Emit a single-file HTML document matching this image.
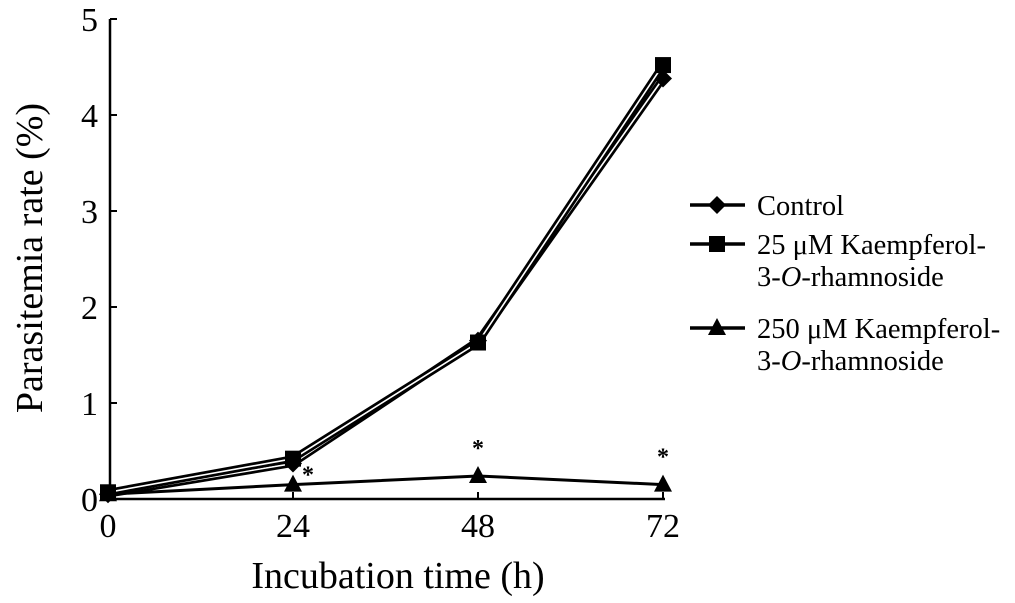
<!DOCTYPE html>
<html><head><meta charset="utf-8"><style>
body{margin:0;background:#fff}
text{font-family:"Liberation Serif",serif;fill:#000}
</style></head><body>
<svg id="c" width="1015" height="598"></svg>
<script>
const times=[0,24,48,72];
const yTicks=[0,1,2,3,4,5];
const control=[0.05,0.37,1.65,4.38];
const low=[0.07,0.42,1.63,4.52];
const high=[0.05,0.15,0.24,0.15];
const sig=[false,true,true,true];
const NS="http://www.w3.org/2000/svg";
const svg=document.getElementById('c');
const X=t=>108+t*(555/72);
const Y=v=>499-v*96;
function el(tag,attrs,name,parent){const e=document.createElementNS(NS,tag);for(const k in attrs)e.setAttribute(k,attrs[k]);


(parent||svg).appendChild(e);return e;}
el('line',{x1:110,y1:Y(5),x2:110,y2:499,stroke:'#000','stroke-width':2.5},'y-axis');
el('line',{x1:110,y1:499,x2:X(72)+2,y2:499,stroke:'#000','stroke-width':2.5},'x-axis');
yTicks.forEach(v=>{el('line',{x1:110,y1:Y(v),x2:117,y2:Y(v),stroke:'#000','stroke-width':2},'y-tick');
const t=el('text',{x:98,y:Y(v)+12,'font-size':34,'text-anchor':'end'},'y-tick-label');t.textContent=v;});
times.forEach(v=>{el('line',{x1:X(v),y1:499,x2:X(v),y2:492,stroke:'#000','stroke-width':2},'x-tick');
const t=el('text',{x:X(v),y:537,'font-size':34,'text-anchor':'middle'},'x-tick-label');t.textContent=v;});
let t=el('text',{x:398,y:588,'font-size':38,'text-anchor':'middle'},'x-axis-title');t.textContent='Incubation time (h)';
t=el('text',{x:0,y:0,'font-size':38,'text-anchor':'middle',transform:'translate(42,258) rotate(-90)'},'y-axis-title');t.textContent='Parasitemia rate (%)';
function series(vals,name,marker){
 el('polyline',{points:vals.map((v,i)=>X(times[i])+','+Y(v)).join(' '),fill:'none',stroke:'#000','stroke-width':7,'stroke-linejoin':'miter'},name+'-line-outer');
 el('polyline',{points:vals.map((v,i)=>X(times[i])+','+Y(v)).join(' '),fill:'none',stroke:'#fff','stroke-width':1.6},name+'-line-inner');
 vals.forEach((v,i)=>marker(X(times[i]),Y(v),name+'-point'));
}
const diamond=(x,y,n)=>el('polygon',{points:`${x},${y-9} ${x+9},${y} ${x},${y+9} ${x-9},${y}`,fill:'#000'},n);
const square=(x,y,n)=>el('rect',{x:x-8,y:y-8,width:16,height:16,fill:'#000'},n);
const tri=(x,y,n)=>el('polygon',{points:`${x},${y-10} ${x+9},${y+7} ${x-9},${y+7}`,fill:'#000'},n);
function plain(vals,name,marker){
 el('polyline',{points:vals.map((v,i)=>X(times[i])+','+Y(v)).join(' '),fill:'none',stroke:'#000','stroke-width':3},name+'-line');
 vals.forEach((v,i)=>marker(X(times[i]),Y(v),name+'-point'));
}
series(control,'control',diamond);
series(low,'25uM',square);
plain(high,'250uM',tri);
high.forEach((v,i)=>{if(!sig[i])return;const dx=i===1?15:0,dy=i===1?-2:-20;
const s=el('text',{x:X(times[i])+dx,y:Y(v)+dy,'font-size':24,'text-anchor':'middle','font-weight':'bold'},'significance-star');s.textContent='*';});
const L=[[205,'Control','',diamond],[244,'25 μM Kaempferol-','3-','rhamnoside',square],[328,'250 μM Kaempferol-','3-','rhamnoside',tri]];
L.forEach((l,i)=>{
 el('line',{x1:690,y1:l[0],x2:745,y2:l[0],stroke:'#000','stroke-width':3.5},'legend-line');
 l[l.length-1](717,l[0],'legend-marker');
 const tx=el('text',{x:757,y:l[0]+10,'font-size':28.5},'legend-label');tx.textContent=l[1];
 if(l.length>4){const t2=el('text',{x:757,y:l[0]+42,'font-size':28.5},'legend-label-line2');
 t2.innerHTML='3-<tspan font-style="italic">O</tspan>-rhamnoside';}
});
</script>
</body></html>
